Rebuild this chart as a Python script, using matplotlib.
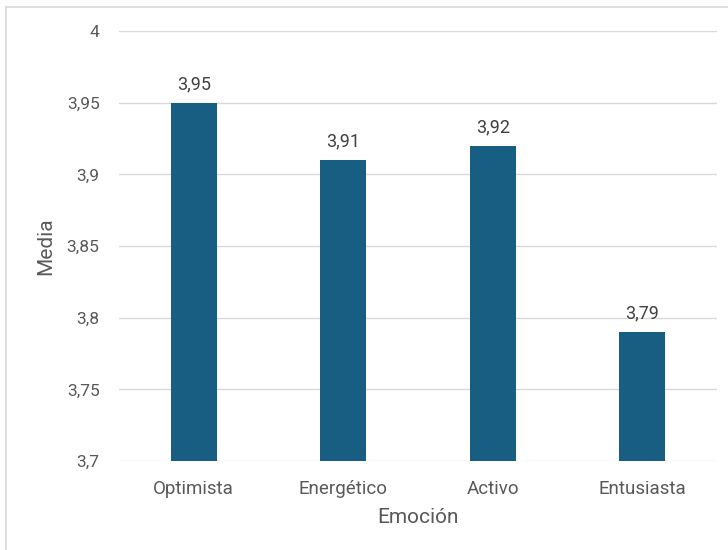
import matplotlib.pyplot as plt
import matplotlib.ticker as mticker
from matplotlib.patches import Rectangle

# datos
emociones = ["Optimista", "Energético", "Activo", "Entusiasta"]
medias = [3.95, 3.91, 3.92, 3.79]
y_ticks = [3.7, 3.75, 3.8, 3.85, 3.9, 3.95, 4.0]

plt.rcParams['font.family'] = ['Roboto', 'DejaVu Sans']
gris = "#595959"

fig = plt.figure(figsize=(7.28, 5.5), dpi=100)
ax = fig.add_axes([0.1635, 0.1618, 0.8214, 0.7818])

# marco del grafico
fig.patches.append(Rectangle((6 / 728, -0.5), 2.0, 1.5 - 7 / 550,
                             transform=fig.transFigure, fill=False,
                             edgecolor="#d9d9d9", linewidth=1.2))

x = range(len(emociones))
bars = ax.bar(x, medias, width=0.31, color="#175e82", zorder=3)

ax.set_xlim(-0.5, len(emociones) - 0.5)
ax.set_ylim(3.7, 4.0)
ax.set_yticks(y_ticks)
ax.yaxis.set_major_formatter(mticker.FuncFormatter(
    lambda v, p: ("%g" % round(v, 2)).replace(".", ",")))
ax.set_xticks(list(x))
ax.set_xticklabels(emociones)

ax.grid(axis="y", color="#d9d9d9", linewidth=1.0, zorder=0)
for s in ax.spines.values():
    s.set_visible(False)
ax.tick_params(axis="y", length=0, labelsize=12.5, colors=gris, pad=14)
ax.tick_params(axis="x", length=0, labelsize=13.5, colors=gris, pad=14)

for b, v in zip(bars, medias):
    ax.annotate(("%.2f" % v).replace(".", ","), (b.get_x() + b.get_width() / 2, v),
                xytext=(0, 7), textcoords="offset points", ha="center",
                va="bottom", fontsize=13, color="#404040")

ax.set_xlabel("Emoción", fontsize=15, color=gris, labelpad=7)
ax.set_ylabel("Media", fontsize=15, color=gris, labelpad=8)

fig.savefig("out.png", dpi=100)
